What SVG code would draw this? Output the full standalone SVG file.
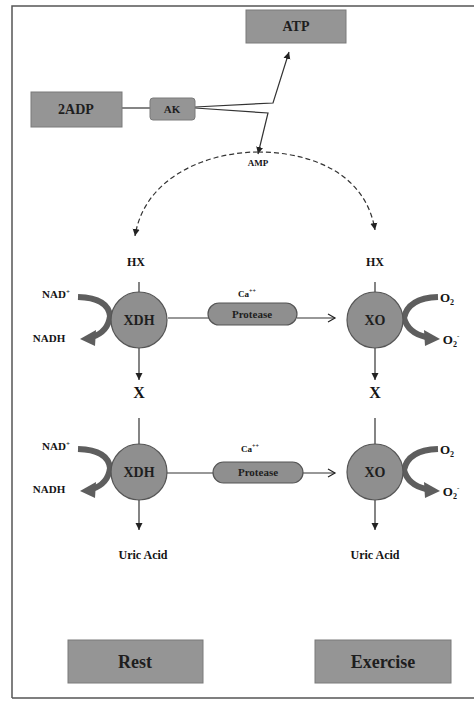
<svg xmlns="http://www.w3.org/2000/svg" width="474" height="701" viewBox="0 0 474 701">
<defs>
<marker id="ah" markerWidth="8" markerHeight="8" refX="7" refY="4" orient="auto" markerUnits="userSpaceOnUse"><path d="M0,0.5 L7,4 L0,7.5 z" fill="#222"/></marker>
<marker id="oa" markerWidth="10" markerHeight="10" refX="8" refY="5" orient="auto" markerUnits="userSpaceOnUse"><path d="M1,1 L8,5 L1,9" fill="none" stroke="#222" stroke-width="1.2"/></marker>
</defs>
<style>
.box{fill:#959595;stroke:#7a7a7a;stroke-width:1}
.bt{font-family:"Liberation Serif",serif;font-weight:bold;fill:#1e1e1e;text-anchor:middle}
.lb{font-family:"Liberation Serif",serif;font-weight:bold;fill:#141414;text-anchor:middle}
.enz{fill:#8f8f8f;stroke:#555;stroke-width:1.2}
.ln{stroke:#333;stroke-width:1.2;fill:none}
.cv{stroke:#5e5e5e;stroke-width:6;fill:none}
.pill{fill:#8f8f8f;stroke:#555;stroke-width:1.2}
</style>
<rect width="474" height="701" fill="#fff"/>
<path d="M12,698 L12,6 L474,6 M12,698 L474,698" stroke="#555" stroke-width="1.5" fill="none"/>

<g id="connectors">
<line class="ln" x1="122" y1="108" x2="150" y2="108"/>
<path class="ln" d="M195,107 L273,103 L289,52" marker-end="url(#ah)"/>
<path class="ln" d="M195,108 L268,113 L258,154" marker-end="url(#ah)"/>
<path d="M258,152 C210,152 145,175 135,236" stroke="#333" stroke-width="1.2" stroke-dasharray="5,3" fill="none" marker-end="url(#ah)"/>
<path d="M258,152 C306,152 365,170 375,230" stroke="#333" stroke-width="1.2" stroke-dasharray="5,3" fill="none" marker-end="url(#ah)"/>
<line class="ln" x1="139" y1="282" x2="139" y2="292"/>
<line class="ln" x1="139" y1="348" x2="139" y2="380" marker-end="url(#ah)"/>
<line class="ln" x1="375" y1="282" x2="375" y2="292"/>
<line class="ln" x1="375" y1="348" x2="375" y2="380" marker-end="url(#ah)"/>
<line class="ln" x1="139" y1="418" x2="139" y2="444"/>
<line class="ln" x1="139" y1="500" x2="139" y2="530" marker-end="url(#ah)"/>
<line class="ln" x1="375" y1="418" x2="375" y2="444"/>
<line class="ln" x1="375" y1="500" x2="375" y2="530" marker-end="url(#ah)"/>
<line class="ln" x1="168" y1="318" x2="209" y2="318"/>
<line class="ln" x1="297" y1="318" x2="335" y2="318" marker-end="url(#oa)"/>
<line class="ln" x1="167" y1="473" x2="214" y2="473"/>
<line class="ln" x1="302" y1="473" x2="335" y2="473" marker-end="url(#oa)"/>
<path class="cv" d="M78,297 Q108,298 110,316 Q108,332 92,337"/>
<path d="M96,330 L80,339 L95,346 z" fill="#5e5e5e"/>
<path class="cv" d="M78,449 Q108,450 110,468 Q108,484 92,489"/>
<path d="M96,482 L80,491 L95,498 z" fill="#5e5e5e"/>
<path class="cv" d="M438,297 Q408,298 404,318 Q408,333 426,337"/>
<path d="M424,330 L440,339 L425,346 z" fill="#5e5e5e"/>
<path class="cv" d="M438,449 Q408,450 404,470 Q408,485 426,489"/>
<path d="M424,482 L440,491 L425,498 z" fill="#5e5e5e"/>
</g>

<g id="atp"><rect class="box" x="246" y="10" width="100" height="33"/><text class="bt" x="296" y="31" font-size="14">ATP</text></g>
<g id="adp"><rect class="box" x="31" y="92" width="91" height="35"/><text class="bt" x="76" y="114" font-size="14">2ADP</text></g>
<g id="ak"><rect class="box" x="150" y="98" width="45" height="22" rx="3"/><text class="bt" x="172" y="113" font-size="11">AK</text></g>
<g id="amp"><text class="lb" x="258" y="166" font-size="9">AMP</text></g>

<g id="hx1"><text class="lb" x="136" y="266" font-size="12">HX</text></g>
<g id="hx2"><text class="lb" x="375" y="266" font-size="12">HX</text></g>

<g id="xdh1"><circle class="enz" cx="139" cy="320" r="28"/><text class="bt" x="139" y="325" font-size="14">XDH</text></g>
<g id="xo1"><circle class="enz" cx="375" cy="320" r="28"/><text class="bt" x="375" y="325" font-size="14">XO</text></g>
<g id="nad1"><text class="lb" x="56" y="298" font-size="11">NAD<tspan dy="-4" font-size="7">+</tspan></text><text class="lb" x="49" y="342" font-size="11">NADH</text></g>
<g id="o2a"><text class="lb" x="447" y="302" font-size="13">O<tspan dy="3" font-size="8">2</tspan></text><text class="lb" x="451" y="344" font-size="13">O<tspan dy="3" font-size="8">2</tspan><tspan dy="-9" font-size="7">-</tspan></text></g>
<g id="prot1"><rect class="pill" x="208" y="303" width="89" height="22" rx="11"/><text class="bt" x="252" y="318" font-size="11">Protease</text><text class="lb" x="247" y="297" font-size="9">Ca<tspan dy="-4" font-size="6">++</tspan></text></g>

<g id="x1"><text class="lb" x="139" y="398" font-size="16">X</text></g>
<g id="x2"><text class="lb" x="375" y="398" font-size="16">X</text></g>

<g id="xdh2"><circle class="enz" cx="139" cy="472" r="28"/><text class="bt" x="139" y="477" font-size="14">XDH</text></g>
<g id="xo2"><circle class="enz" cx="375" cy="472" r="28"/><text class="bt" x="375" y="477" font-size="14">XO</text></g>
<g id="nad2"><text class="lb" x="56" y="450" font-size="11">NAD<tspan dy="-4" font-size="7">+</tspan></text><text class="lb" x="49" y="493" font-size="11">NADH</text></g>
<g id="o2b"><text class="lb" x="447" y="454" font-size="13">O<tspan dy="3" font-size="8">2</tspan></text><text class="lb" x="451" y="496" font-size="13">O<tspan dy="3" font-size="8">2</tspan><tspan dy="-9" font-size="7">-</tspan></text></g>
<g id="prot2"><rect class="pill" x="213" y="462" width="90" height="21" rx="10.5"/><text class="bt" x="258" y="476" font-size="11">Protease</text><text class="lb" x="250" y="452" font-size="9">Ca<tspan dy="-4" font-size="6">++</tspan></text></g>

<g id="ua1"><text class="lb" x="143" y="559" font-size="12">Uric Acid</text></g>
<g id="ua2"><text class="lb" x="375" y="559" font-size="12">Uric Acid</text></g>

<g id="rest"><rect class="box" x="68" y="640" width="135" height="43"/><text class="bt" x="135" y="668" font-size="18">Rest</text></g>
<g id="exercise"><rect class="box" x="315" y="640" width="136" height="43"/><text class="bt" x="383" y="668" font-size="18">Exercise</text></g>
</svg>
